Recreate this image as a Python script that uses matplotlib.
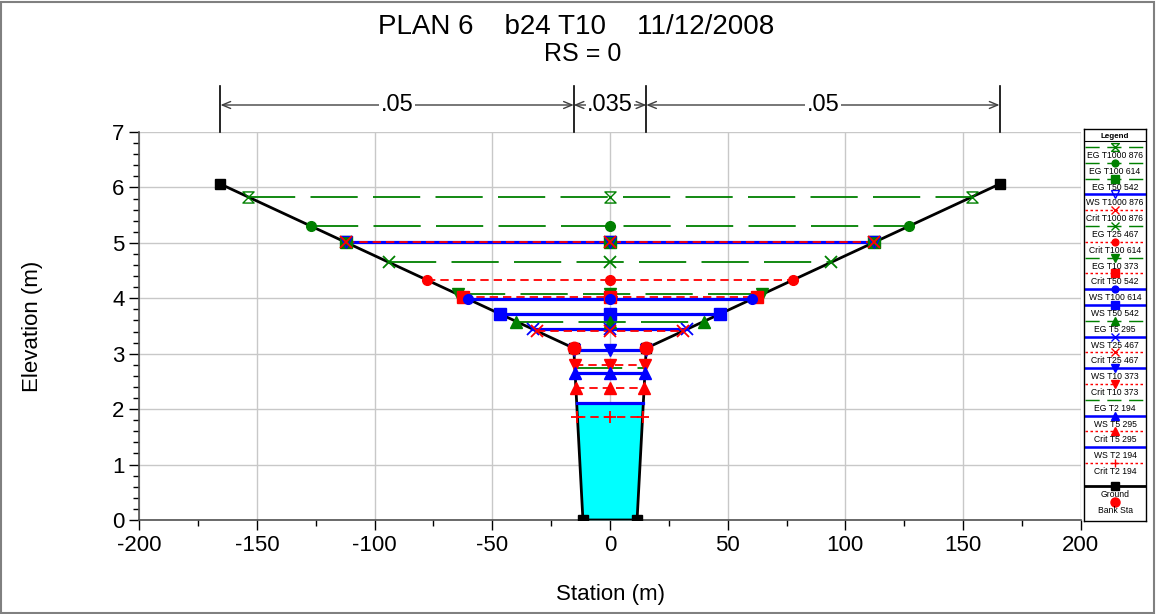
import numpy as np
import matplotlib
matplotlib.use("Agg")
import matplotlib.pyplot as plt
from matplotlib.path import Path
from matplotlib.patches import Rectangle
import matplotlib.transforms as mtransforms
from matplotlib.ticker import MultipleLocator

plt.rcParams['font.family'] = ['Liberation Sans', 'DejaVu Sans']
plt.rcParams['axes.unicode_minus'] = False
plt.rcParams['lines.scale_dashes'] = False

# ---------------- data ----------------
ground_sta = [-165.5, -15.4, -11.5, 11.5, 15.4, 165.5]
ground_elev = [6.06, 3.10, 0.0, 0.0, 3.10, 6.06]
bank_sta = [-15.4, 15.4]

roughness_breaks = [-165.5, -15.4, 15.4, 165.5]
roughness_n = [".05", ".035", ".05"]

profile_labels = ["EG T1000 876", "EG T100 614", "EG T50 542", "WS T1000 876",
                  "Crit T1000 876", "EG T25 467", "Crit T100 614", "EG T10 373",
                  "Crit T50 542", "WS T100 614", "WS T50 542", "EG T5 295",
                  "WS T25 467", "Crit T25 467", "WS T10 373", "Crit T10 373",
                  "EG T2 194", "WS T5 295", "Crit T5 295", "WS T2 194", "Crit T2 194"]
profile_kind = ["EG", "EG", "EG", "WS", "Crit", "EG", "Crit", "EG", "Crit", "WS", "WS",
                "EG", "WS", "Crit", "WS", "Crit", "EG", "WS", "Crit", "WS", "Crit"]
profile_elev = [5.83, 5.30, 5.01, 5.01, 5.01, 4.65, 4.33, 4.07, 4.03, 3.99, 3.72,
                3.58, 3.44, 3.41, 3.07, 2.79, 2.74, 2.66, 2.39, 2.11, 1.85]
filled_ws = "WS T2 194"

title_text = "PLAN 6    b24 T10    11/12/2008"
subtitle_text = "RS = 0"
x_ticks = [-200, -150, -100, -50, 0, 50, 100, 150, 200]
y_ticks = [0, 1, 2, 3, 4, 5, 6, 7]

# ---------------- styles ----------------
hourglass = Path([(-1, 1), (1, 1), (-1, -1), (1, -1), (-1, 1)],
                 [Path.MOVETO, Path.LINETO, Path.LINETO, Path.LINETO, Path.CLOSEPOLY])
kind_style = {
    "EG": dict(color="#008000", lw=1.3, dashes=(34, 11)),
    "WS": dict(color="#0000ff", lw=2.3, dashes=None),
    "Crit": dict(color="#ff0000", lw=1.3, dashes=(6, 3.6)),
}
marker_style = {
    "EG T1000 876": dict(marker=hourglass, mfc="none", ms=8),
    "EG T100 614": dict(marker="o", ms=7),
    "EG T50 542": dict(marker="s", ms=8),
    "WS T1000 876": dict(marker="v", mfc="none", ms=8),
    "Crit T1000 876": dict(marker="x", ms=8, mew=1.3),
    "EG T25 467": dict(marker="x", ms=8, mew=1.3),
    "Crit T100 614": dict(marker="o", ms=7),
    "EG T10 373": dict(marker="v", ms=8),
    "Crit T50 542": dict(marker="s", ms=8),
    "WS T100 614": dict(marker="o", ms=7),
    "WS T50 542": dict(marker="s", ms=8),
    "EG T5 295": dict(marker="^", ms=8),
    "WS T25 467": dict(marker="x", ms=8, mew=1.3),
    "Crit T25 467": dict(marker="x", ms=8, mew=1.3),
    "WS T10 373": dict(marker="v", ms=8),
    "Crit T10 373": dict(marker="v", ms=8),
    "EG T2 194": dict(marker=None),
    "WS T5 295": dict(marker="^", ms=8),
    "Crit T5 295": dict(marker="^", ms=8),
    "WS T2 194": dict(marker=None),
    "Crit T2 194": dict(marker="+", ms=9, mew=1.3),
}

W, H = 1156, 614
fig = plt.figure(figsize=(W / 100, H / 100), dpi=100)
ax = fig.add_axes([139.3 / W, 1 - 520 / H, (1080.7 - 139.3) / W, (520 - 132) / H])

gs = np.array(ground_sta)
ge = np.array(ground_elev)
imin = int(np.argmin(ge))


def intersect(z):
    ls, le = gs[:imin + 1], ge[:imin + 1]
    rs, re_ = gs[imin:], ge[imin:]
    xl = np.interp(z, le[::-1], ls[::-1])
    xr = np.interp(z, re_, rs)
    return xl, xr


# water fill
zf = profile_elev[profile_labels.index(filled_ws)]
xl, xr = intersect(zf)
xs = np.array(sorted([xl, xr] + [g for g in ground_sta if xl < g < xr]))
ax.fill_between(xs, np.interp(xs, gs, ge), zf, color="#00ffff", lw=0, zorder=1)

# ground
ax.plot(gs, ge, color="black", lw=2, marker="s", ms=7.5, zorder=3)

# profiles
for lab, kind, z in zip(profile_labels, profile_kind, profile_elev):
    st = kind_style[kind]
    xl, xr = intersect(z)
    kw = dict(color=st["color"], lw=st["lw"], zorder=4)
    if st["dashes"]:
        kw["dashes"] = st["dashes"]
    ax.plot([xl, xr], [z, z], **kw)
    ms = dict(marker_style[lab])
    if ms.get("marker") is not None:
        mfc = ms.pop("mfc", st["color"])
        ax.plot([xl, (xl + xr) / 2, xr], [z, z, z], ls="none", color=st["color"],
                mfc=mfc, mec=st["color"], zorder=5, **ms)

# bank stations
ax.plot(bank_sta, np.interp(bank_sta, gs, ge), ls="none", marker="o", ms=9,
        color="#ff0000", zorder=6)

# axes formatting
ax.set_xlim(-200, 200)
ax.set_ylim(0, 7)
ax.set_xticks(x_ticks)
ax.set_yticks(y_ticks)
ax.xaxis.set_minor_locator(MultipleLocator(25))
ax.yaxis.set_minor_locator(MultipleLocator(0.2))
ax.tick_params(which="major", direction="out", length=7, width=1, labelsize=16, colors="black")
ax.tick_params(which="minor", direction="out", length=4, width=1)
ax.tick_params(axis="x", pad=4)
ax.grid(True, which="major", color="#c8c8c8", lw=1, zorder=0)
ax.set_axisbelow(True)
for s in ["top", "right"]:
    ax.spines[s].set_visible(False)
for s in ["left", "bottom"]:
    ax.spines[s].set_color("#505050")
    ax.spines[s].set_linewidth(1.2)
ax.set_xlabel("Station (m)", fontsize=16, labelpad=20)
ax.set_ylabel("Elevation (m)", fontsize=16, labelpad=50)

# title
fig.text(576 / W, 1 - 34 / H, title_text, ha="center", va="baseline", fontsize=20)
fig.text(583 / W, 1 - 61 / H, subtitle_text, ha="center", va="baseline", fontsize=18)

# roughness annotation
trans = mtransforms.blended_transform_factory(ax.transData, ax.transAxes)
y_arrow = (520 - 105) / 388
y_top = (520 - 86) / 388
for xb in roughness_breaks:
    ax.plot([xb, xb], [1.0, y_top], color="black", lw=1.2, transform=trans, clip_on=False)
for i, n in enumerate(roughness_n):
    a, b = roughness_breaks[i], roughness_breaks[i + 1]
    ax.annotate("", xy=(a, y_arrow), xytext=(b, y_arrow), xycoords=trans, textcoords=trans,
                arrowprops=dict(arrowstyle="<->,head_length=0.6,head_width=0.25",
                                color="#404040", lw=1, shrinkA=0, shrinkB=0))
    ax.text((a + b) / 2, y_arrow, n, transform=trans, ha="center", va="center", fontsize=17,
            bbox=dict(facecolor="white", edgecolor="none", pad=1.0), clip_on=False)

# legend box
lx0, lx1, ly0, ly1 = 1084, 1146, 129, 521
lax = fig.add_axes([lx0 / W, 1 - ly1 / H, (lx1 - lx0) / W, (ly1 - ly0) / H])
lax.set_xlim(0, 1)
lax.set_ylim(ly1, ly0)
lax.set_xticks([])
lax.set_yticks([])
for s in lax.spines.values():
    s.set_color("black")
    s.set_linewidth(1)
lax.text(0.5, 136, "Legend", ha="center", va="center", fontsize=5.8, fontweight="bold")
lax.plot([0, 1], [141.5, 141.5], color="black", lw=0.8)
for i, (lab, kind) in enumerate(zip(profile_labels, profile_kind)):
    yl = 147 + i * 15.8
    st = kind_style[kind]
    kw = dict(color=st["color"], lw=st["lw"] * 0.8)
    if st["dashes"]:
        kw["dashes"] = (st["dashes"][0] * 0.3, st["dashes"][1] * 0.5)
    lax.plot([0.02, 0.98], [yl, yl], **kw)
    ms = dict(marker_style[lab])
    if ms.get("marker") is not None:
        mfc = ms.pop("mfc", st["color"])
        ms["ms"] = ms["ms"] * 0.7
        if "mew" in ms:
            ms["mew"] = 1.0
        lax.plot([0.5], [yl], ls="none", color=st["color"], mfc=mfc, mec=st["color"], **ms)
    lax.text(0.5, yl + 8.5, lab, ha="center", va="center", fontsize=6.2, clip_on=True)
lax.plot([0.02, 0.98], [486, 486], color="black", lw=2)
lax.plot([0.5], [486], ls="none", marker="s", ms=6, color="black")
lax.text(0.5, 494.5, "Ground", ha="center", va="center", fontsize=6.2)
lax.plot([0.5], [502], ls="none", marker="o", ms=6.5, color="#ff0000")
lax.text(0.5, 510.5, "Bank Sta", ha="center", va="center", fontsize=6.2)

# outer border
fig.patches.append(Rectangle((1 / W, 1 / H), (W - 3) / W, (H - 3) / H, transform=fig.transFigure,
                             fill=False, edgecolor="#808080", lw=1.5))

fig.savefig("out.png", dpi=100)
